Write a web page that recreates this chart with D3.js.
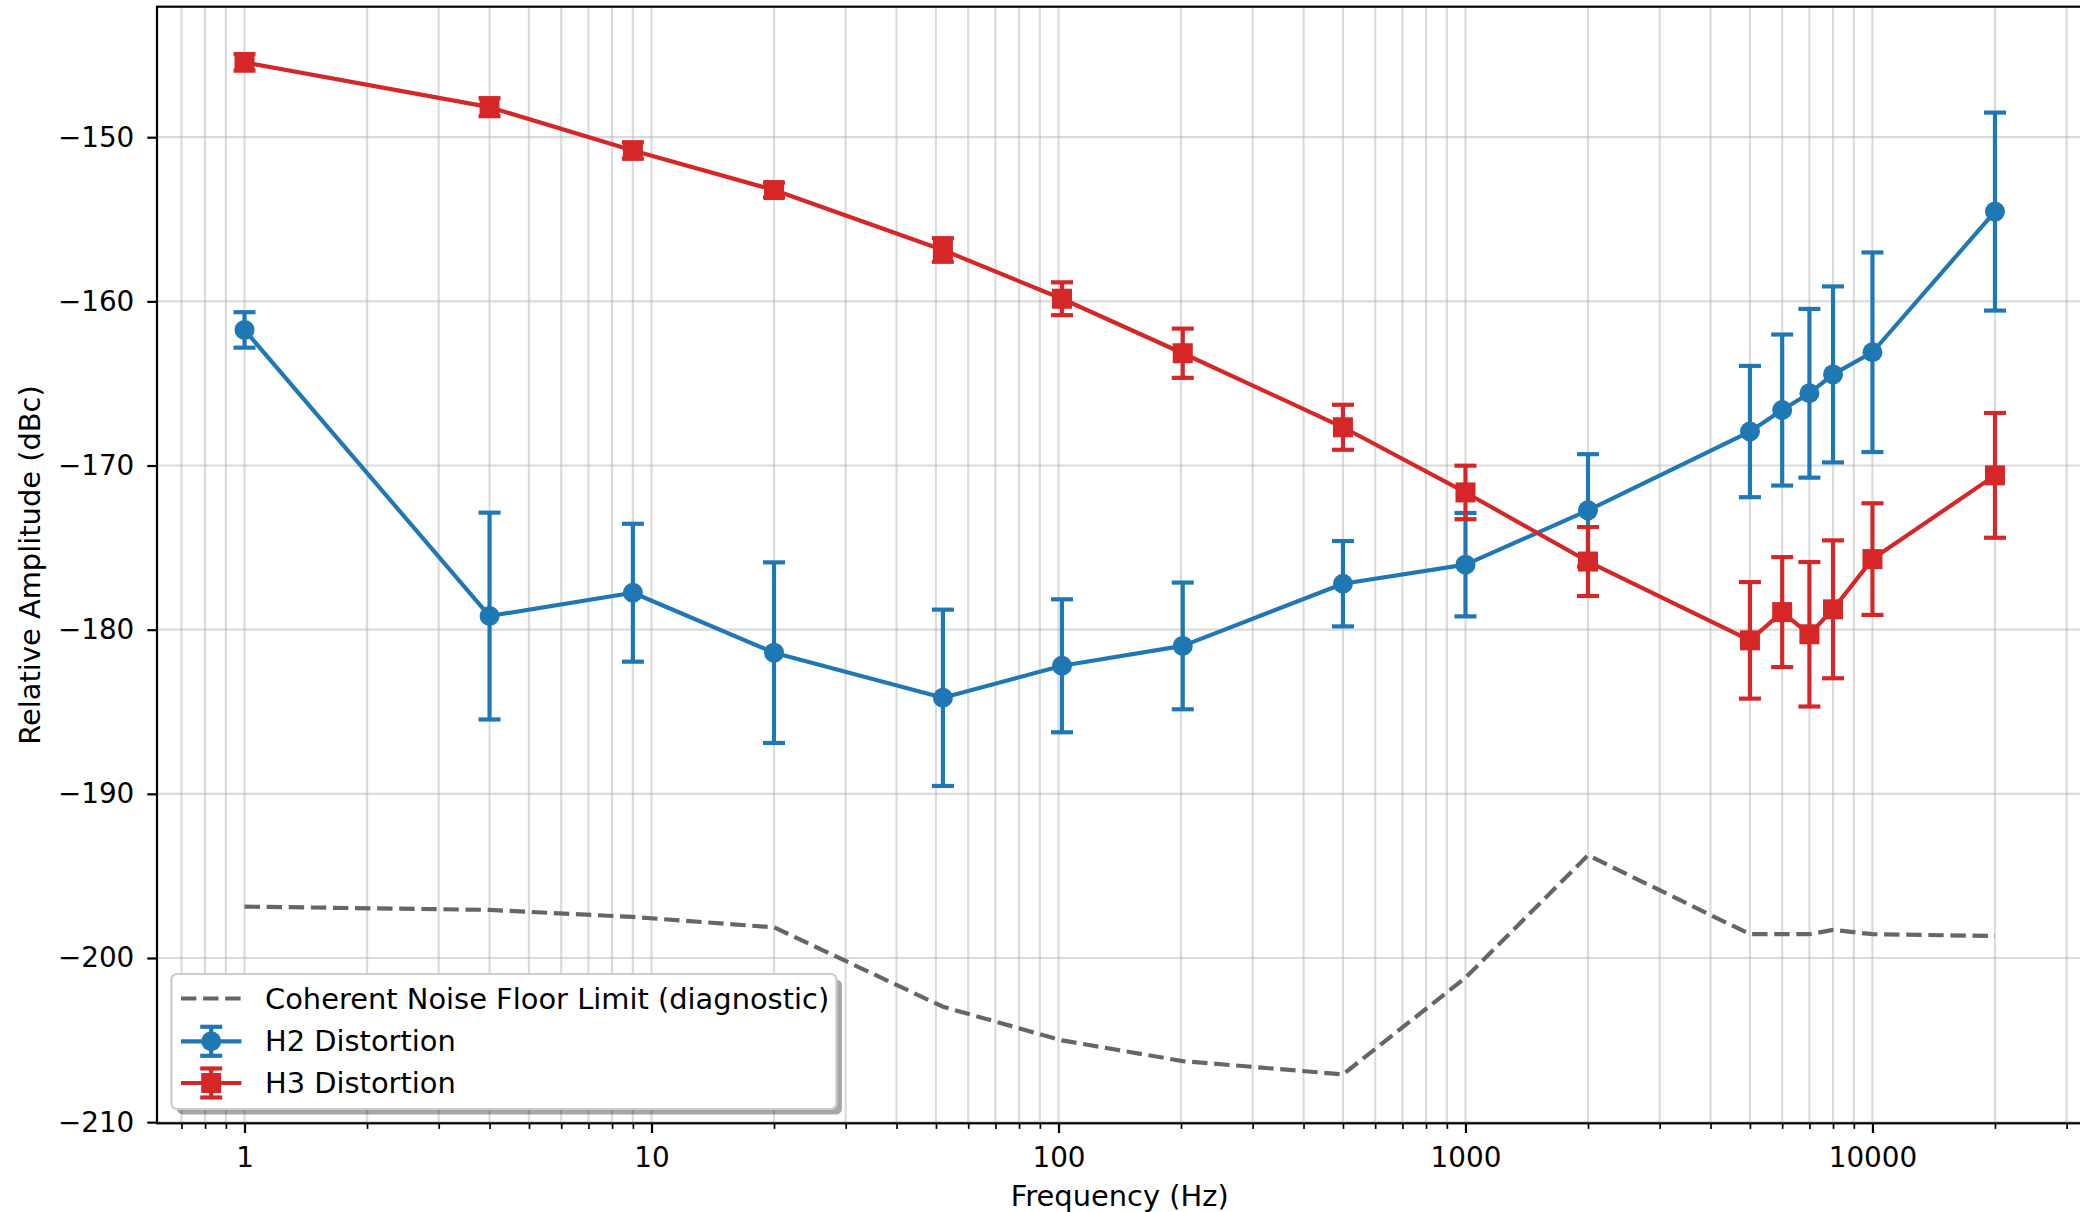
<!DOCTYPE html>
<html>
<head>
<meta charset="utf-8">
<script src="https://cdn.jsdelivr.net/npm/d3@7"></script>
<style>
  body { margin: 0; background: #fff; }
  svg text { font-family: "DejaVu Sans", sans-serif; }
</style>
</head>
<body>
<svg id="chart" width="2080" height="1212"></svg>
<script>
// test frequencies (Hz)
var freqs = [1, 4, 9, 20, 52, 102, 202, 500, 1000, 2000, 5000, 6000, 7000, 8000, 10000, 20000];

// H2 distortion, dBc + error
var h2 = [-161.74, -179.17, -177.75, -181.4, -184.15, -182.2, -180.99, -177.2, -176.04, -172.73, -167.93, -166.62, -165.6, -164.45, -163.1, -154.53];
var h2Err = [1.08, 6.3, 4.2, 5.5, 5.37, 4.05, 3.86, 2.6, 3.15, 3.42, 4.0, 4.6, 5.14, 5.36, 6.08, 6.03];

// H3 distortion, dBc + error
var h3 = [-145.44, -148.17, -150.81, -153.22, -156.87, -159.84, -163.16, -167.67, -171.64, -175.85, -180.65, -178.93, -180.28, -178.76, -175.7, -170.6];
var h3Err = [0.5, 0.55, 0.5, 0.45, 0.72, 1.0, 1.5, 1.37, 1.63, 2.1, 3.55, 3.35, 4.4, 4.2, 3.4, 3.8];

// coherent noise floor limit
var noise = [-196.87, -197.07, -197.5, -198.13, -202.97, -205.02, -206.28, -207.09, -201.2, -193.74, -198.55, -198.55, -198.55, -198.29, -198.55, -198.66];

var yTicks = [-210, -200, -190, -180, -170, -160, -150];
var xTicks = [1, 10, 100, 1000, 10000];

var legendLabels = ["Coherent Noise Floor Limit (diagnostic)", "H2 Distortion", "H3 Distortion"];

// plot area
var m = {left: 157, top: 6.7, right: 2082.5, bottom: 1123.3};
var fs = 27.8, fsLab = 28.9;

var svg = d3.select("#chart");
svg.append("rect").attr("width", 2080).attr("height", 1212).attr("fill", "#fff");

// log x with 5% margin in log space, like matplotlib
var lo = Math.log10(d3.min(freqs)), hi = Math.log10(d3.max(freqs)), pad = 0.05 * (hi - lo);
var x = d3.scaleLog()
  .domain([Math.pow(10, lo - pad), Math.pow(10, hi + pad)])
  .range([m.left, m.right]);

var y = d3.scaleLinear()
  .domain([-210.07, -142.05])
  .range([m.bottom, m.top]);

// minor tick positions 2..9 per decade
var minorX = [];
for (var n = -1; n <= 4; n++) {
  for (var k = 2; k <= 9; k++) {
    var v = k * Math.pow(10, n);
    if (v >= x.domain()[0] && v <= x.domain()[1]) minorX.push(v);
  }
}

// grid
var grid = svg.append("g").attr("stroke", "#b0b0b0").attr("stroke-opacity", 0.45).attr("stroke-width", 2.2);
grid.selectAll("line.gx")
  .data(xTicks.concat(minorX))
  .enter()
  .append("line")
    .attr("class", "gx")
    .attr("x1", function(d){ return x(d) })
    .attr("x2", function(d){ return x(d) })
    .attr("y1", m.top)
    .attr("y2", m.bottom);
grid.selectAll("line.gy")
  .data(yTicks)
  .enter()
  .append("line")
    .attr("class", "gy")
    .attr("x1", m.left)
    .attr("x2", m.right)
    .attr("y1", function(d){ return y(d) })
    .attr("y2", function(d){ return y(d) });

// noise floor (dashed)
var noisePts = freqs.map(function(f, i){ return {f: f, v: noise[i]} });
var line = d3.line()
  .x(function(d){ return x(d.f) })
  .y(function(d){ return y(d.v) });

svg.append("path")
  .datum(noisePts)
  .attr("d", line)
  .attr("fill", "none")
  .attr("stroke", "#666666")
  .attr("stroke-width", 4.17)
  .attr("stroke-dasharray", "15.4,6.7");

// one series with error bars
function drawSeries(vals, errs, color, shape) {
  var pts = freqs.map(function(f, i){ return {f: f, v: vals[i], e: errs[i]} });
  var g = svg.append("g");

  g.selectAll("line.eb")
    .data(pts)
    .enter()
    .append("line")
      .attr("x1", function(d){ return x(d.f) })
      .attr("x2", function(d){ return x(d.f) })
      .attr("y1", function(d){ return y(d.v - d.e) })
      .attr("y2", function(d){ return y(d.v + d.e) })
      .attr("stroke", color)
      .attr("stroke-width", 4.17);

  [-1, 1].forEach(function(s){
    g.selectAll("line.cap" + s)
      .data(pts)
      .enter()
      .append("line")
        .attr("x1", function(d){ return x(d.f) - 11 })
        .attr("x2", function(d){ return x(d.f) + 11 })
        .attr("y1", function(d){ return y(d.v + s * d.e) })
        .attr("y2", function(d){ return y(d.v + s * d.e) })
        .attr("stroke", color)
        .attr("stroke-width", 4.17);
  });

  g.append("path")
    .datum(pts)
    .attr("d", line)
    .attr("fill", "none")
    .attr("stroke", color)
    .attr("stroke-width", 4.17)
    .attr("stroke-linejoin", "round");

  if (shape == "circle") {
    g.selectAll("circle")
      .data(pts)
      .enter()
      .append("circle")
        .attr("cx", function(d){ return x(d.f) })
        .attr("cy", function(d){ return y(d.v) })
        .attr("r", 10)
        .attr("fill", color);
  } else {
    g.selectAll("rect")
      .data(pts)
      .enter()
      .append("rect")
        .attr("x", function(d){ return x(d.f) - 10 })
        .attr("y", function(d){ return y(d.v) - 10 })
        .attr("width", 20)
        .attr("height", 20)
        .attr("fill", color);
  }
}

drawSeries(h2, h2Err, "#1f77b4", "circle");
drawSeries(h3, h3Err, "#d62728", "square");

// axes
var xAxis = svg.append("g")
  .attr("transform", "translate(0," + m.bottom + ")")
  .call(d3.axisBottom(x).tickValues(xTicks).tickFormat(d3.format("d")).tickSize(9.7).tickPadding(14.3));
svg.append("g")
  .attr("transform", "translate(0," + m.bottom + ")")
  .call(d3.axisBottom(x).tickValues(minorX).tickFormat("").tickSize(5.6))
  .call(function(g){ g.selectAll("line").attr("stroke-width", 1.7) });

var yAxis = svg.append("g")
  .attr("transform", "translate(" + m.left + ",0)")
  .call(d3.axisLeft(y).tickValues(yTicks).tickFormat(d3.format("d")).tickSize(9.7).tickPadding(13));

svg.selectAll(".domain").remove();
[xAxis, yAxis].forEach(function(a){
  a.attr("font-family", null).attr("font-size", null);
  a.selectAll("line").attr("stroke-width", 2.2);
  a.selectAll("text").attr("font-size", fs).attr("fill", "#000");
});

// spines
svg.append("rect")
  .attr("x", m.left)
  .attr("y", m.top)
  .attr("width", m.right - m.left)
  .attr("height", m.bottom - m.top)
  .attr("fill", "none")
  .attr("stroke", "#000")
  .attr("stroke-width", 2.2);

// axis labels
svg.append("text")
  .attr("x", (m.left + m.right) / 2)
  .attr("y", 1206)
  .attr("text-anchor", "middle")
  .attr("font-size", fsLab)
  .text("Frequency (Hz)");

svg.append("text")
  .attr("transform", "translate(39.5," + (m.top + m.bottom) / 2 + ") rotate(-90)")
  .attr("text-anchor", "middle")
  .attr("font-size", fsLab)
  .text("Relative Amplitude (dBc)");

// legend
var lg = svg.append("g").attr("transform", "translate(171.4,974)");
lg.append("rect")
  .attr("x", 5.5).attr("y", 5.5)
  .attr("width", 665).attr("height", 135)
  .attr("rx", 5.6)
  .attr("fill", "#000").attr("opacity", 0.35);
lg.append("rect")
  .attr("width", 665).attr("height", 135)
  .attr("rx", 5.6)
  .attr("fill", "#fff")
  .attr("stroke", "#cccccc")
  .attr("stroke-width", 2.2);

var rows = [24.5, 67.3, 109];
lg.append("line")
  .attr("x1", 9.6).attr("x2", 70)
  .attr("y1", rows[0]).attr("y2", rows[0])
  .attr("stroke", "#666666")
  .attr("stroke-width", 4.17)
  .attr("stroke-dasharray", "15.4,6.7");

[["#1f77b4", "circle"], ["#d62728", "square"]].forEach(function(s, i){
  var cy = rows[i + 1], cx = 39.8;
  lg.append("line").attr("x1", 9.6).attr("x2", 70).attr("y1", cy).attr("y2", cy)
    .attr("stroke", s[0]).attr("stroke-width", 4.17);
  lg.append("line").attr("x1", cx).attr("x2", cx).attr("y1", cy - 14.5).attr("y2", cy + 14.5)
    .attr("stroke", s[0]).attr("stroke-width", 4.17);
  [-14.5, 14.5].forEach(function(o){
    lg.append("line").attr("x1", cx - 11).attr("x2", cx + 11).attr("y1", cy + o).attr("y2", cy + o)
      .attr("stroke", s[0]).attr("stroke-width", 4.17);
  });
  if (s[1] == "circle") {
    lg.append("circle").attr("cx", cx).attr("cy", cy).attr("r", 10).attr("fill", s[0]);
  } else {
    lg.append("rect").attr("x", cx - 10).attr("y", cy - 10).attr("width", 20).attr("height", 20).attr("fill", s[0]);
  }
});

lg.selectAll("text.lab")
  .data(legendLabels)
  .enter()
  .append("text")
    .attr("x", 93.6)
    .attr("y", function(d, i){ return rows[i] })
    .attr("dy", "0.35em")
    .attr("font-size", fsLab)
    .text(function(d){ return d });
</script>
</body>
</html>
